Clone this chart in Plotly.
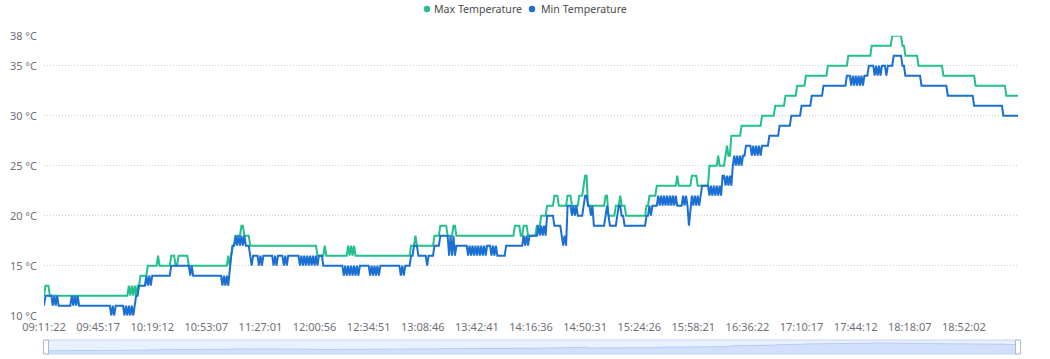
import plotly.graph_objects as go

# ---------------- data ----------------
N_POINTS = 667            # samples on the category axis
POINTS_PER_LABEL = 37     # samples between two shown time labels

TICK_LABELS = ["09:11:22", "09:45:17", "10:19:12", "10:53:07", "11:27:01", "12:00:56",
               "12:34:51", "13:08:46", "13:42:41", "14:16:36", "14:50:31", "15:24:26",
               "15:58:21", "16:36:22", "17:10:17", "17:44:12", "18:18:07", "18:52:02"]

Y_TICKS = [10, 15, 20, 25, 30, 35, 38]
Y_TICK_TEXT = [f"{v} °C" for v in Y_TICKS]

# runs: (start index, value)  or  (start index, value a, value b) where readings toggle a/b
MAX_RUNS = [(0, 12), (1, 13), (4, 12), (57, 12, 13), (64, 13), (66, 14), (71, 15), (78, 16), (79, 15),
            (87, 16), (90, 15), (92, 16), (99, 15), (125, 15, 16), (129, 17), (131, 18), (135, 19),
            (137, 18), (141, 17), (187, 16), (192, 17), (193, 16), (207, 16, 17), (213, 16), (251, 17),
            (254, 18), (255, 17), (267, 18), (271, 19), (276, 18), (280, 19), (282, 18), (322, 19),
            (326, 18), (328, 19), (331, 18), (337, 19), (340, 20), (344, 21), (349, 22), (352, 21),
            (358, 22), (361, 21), (366, 22), (369, 23), (370, 24), (372, 21), (384, 22), (386, 20),
            (391, 21), (394, 22), (395, 21), (398, 20), (412, 21), (414, 22), (419, 23), (433, 24),
            (434, 23), (443, 24), (447, 23), (455, 25), (461, 26), (462, 25), (466, 26), (467, 27),
            (468, 26), (470, 28), (477, 29), (491, 30), (500, 31), (507, 32), (515, 33), (521, 34),
            (536, 35), (550, 36), (566, 37), (580, 38), (587, 37), (589, 36), (598, 35), (615, 34),
            (637, 33), (657, 33, 32), (659, 32)]

MIN_RUNS = [(0, 11), (1, 12), (5, 12, 11), (10, 11), (18, 11, 12), (25, 11), (46, 10, 11), (49, 11),
            (55, 10, 11), (63, 12), (65, 13), (69, 13, 14), (75, 14), (87, 15), (100, 14, 15), (103, 14),
            (122, 13, 14), (127, 15), (128, 16), (129, 17), (131, 18, 17), (139, 17), (141, 16, 15),
            (144, 16), (146, 16, 15), (150, 16), (156, 16, 15), (160, 16), (163, 16, 15), (168, 16),
            (174, 16, 15), (189, 16), (191, 15), (205, 14, 15), (217, 15), (223, 14, 15), (230, 15),
            (244, 14), (245, 15), (246, 14), (247, 15), (251, 16), (253, 17), (256, 16), (262, 15),
            (263, 16), (267, 17), (271, 18), (276, 18, 16), (282, 17), (289, 17, 16), (303, 17),
            (305, 17, 16), (310, 16), (316, 17), (327, 17, 18), (332, 18), (338, 19, 18), (344, 20),
            (349, 19), (354, 18, 17), (358, 21), (361, 20, 21), (366, 20), (369, 21), (370, 22),
            (372, 21), (374, 20, 21), (376, 19), (384, 20), (385, 21), (386, 20), (387, 19), (392, 20),
            (393, 21), (395, 20), (397, 19), (412, 20), (414, 21, 20), (416, 21), (419, 21, 22),
            (433, 21), (436, 21, 22), (441, 19), (442, 21, 22), (450, 23), (455, 22, 23), (464, 24),
            (465, 24, 23), (471, 25, 26), (478, 26), (480, 27), (484, 26, 27), (492, 27), (496, 28),
            (503, 29), (511, 30), (518, 31), (525, 32), (532, 32, 33), (534, 33), (549, 34),
            (551, 34, 33), (562, 34), (564, 35), (568, 34), (569, 35), (570, 34), (571, 35), (572, 34),
            (573, 35), (576, 34), (577, 35), (581, 36), (587, 35), (589, 34), (600, 33), (618, 32),
            (636, 31), (656, 30)]

SERIES_NAMES = ["Max Temperature", "Min Temperature"]
COLORS = ["#22c08b", "#1a6fd2"]


def expand(runs, n):
    vals = []
    for k, run in enumerate(runs):
        start = run[0]
        end = runs[k + 1][0] if k + 1 < len(runs) else n
        for i in range(start, end):
            if len(run) == 3:
                vals.append(run[1] if (i - start) % 2 == 0 else run[2])
            else:
                vals.append(run[1])
    return vals


max_vals = expand(MAX_RUNS, N_POINTS)
min_vals = expand(MIN_RUNS, N_POINTS)
x_idx = list(range(N_POINTS))

# ---------------- layout geometry ----------------
W, H = 1050, 359
L, R, T, B = 44, 32, 30, 4
PW, PH = W - L - R, H - T - B


def pxx(px):
    return (px - L) / PW


def pxy(py):
    return max(0.0, min(1.0, (H - B - py) / PH))


fig = go.Figure()

for name, vals, col in zip(SERIES_NAMES, [max_vals, min_vals], COLORS):
    fig.add_trace(go.Scatter(x=x_idx, y=vals, mode="lines", name=name,
                             line=dict(color=col, width=2), showlegend=False,
                             xaxis="x", yaxis="y"))

# data shadow in slider (first series)
ymin, ymax = min(Y_TICKS), max(Y_TICKS)
pad = (ymax - ymin) * 0.3
fig.add_trace(go.Scatter(x=x_idx, y=max_vals, mode="lines", fill="tozeroy",
                         line=dict(color="rgba(143,176,247,0.9)", width=0.6),
                         fillcolor="rgba(143,176,247,0.25)", showlegend=False,
                         hoverinfo="skip", xaxis="x2", yaxis="y2"))

tick_vals = [i * POINTS_PER_LABEL for i in range(len(TICK_LABELS))]

fig.update_layout(
    width=W, height=H, autosize=False,
    margin=dict(l=L, r=R, t=T, b=B, autoexpand=False),
    paper_bgcolor="white", plot_bgcolor="white",
    font=dict(family="Noto Sans", size=11, color="#6e7079"),
    xaxis=dict(range=[0, N_POINTS - 1], tickvals=tick_vals, ticktext=TICK_LABELS,
               showgrid=False, zeroline=False, showline=False, ticks="", automargin=False,
               ticklabelstandoff=3,
               tickfont=dict(size=11, color="#6e7079"), anchor="y"),
    yaxis=dict(domain=[pxy(315.7), pxy(35.7)], range=[ymin, ymax], tickvals=Y_TICKS,
               ticktext=Y_TICK_TEXT, automargin=False,
               showgrid=True, gridcolor="#cfcfcf", griddash="1px,2px", gridwidth=1,
               zeroline=False, showline=False, ticks="", ticklabelstandoff=6,
               tickfont=dict(size=11, color="#6e7079")),
    xaxis2=dict(range=[0, N_POINTS - 1], visible=False, anchor="y2", automargin=False),
    yaxis2=dict(domain=[pxy(354), pxy(340)], range=[ymin - pad, ymax + pad], visible=False,
                automargin=False),
    hovermode="x unified",
)

# slider frame
fig.add_shape(type="rect", xref="paper", yref="paper", x0=pxx(46), x1=pxx(1018),
              y0=pxy(354), y1=pxy(340), line=dict(color="#c9d4ee", width=1),
              fillcolor="rgba(135,175,254,0.18)", layer="below")
for hx in [46, 1018]:
    fig.add_shape(type="rect", xref="paper", yref="paper", x0=pxx(hx - 2.5), x1=pxx(hx + 2.5),
                  y0=pxy(354), y1=pxy(340), line=dict(color="#acb8d1", width=1),
                  fillcolor="white")

# legend (top centre) drawn in paper space above the plot area
def pyo(py):
    return (H - B - py) / PH


legend_items = [(427, 432, SERIES_NAMES[0], COLORS[0]), (532, 539, SERIES_NAMES[1], COLORS[1])]
for dot_x, text_x, name, col in legend_items:
    fig.add_shape(type="circle", xref="paper", yref="paper",
                  x0=pxx(dot_x - 3.2), x1=pxx(dot_x + 3.2), y0=pyo(12.2), y1=pyo(5.8),
                  fillcolor=col, line=dict(width=0))
    fig.add_annotation(xref="paper", yref="paper", x=pxx(text_x), y=pyo(9), text=name,
                       showarrow=False, xanchor="left", yanchor="middle",
                       font=dict(family="Noto Sans", size=10.6, color="#4a4a4a"))

fig.write_html("out.html", config={"displayModeBar": False, "responsive": False},
               post_script="document.body.style.margin='0';")
